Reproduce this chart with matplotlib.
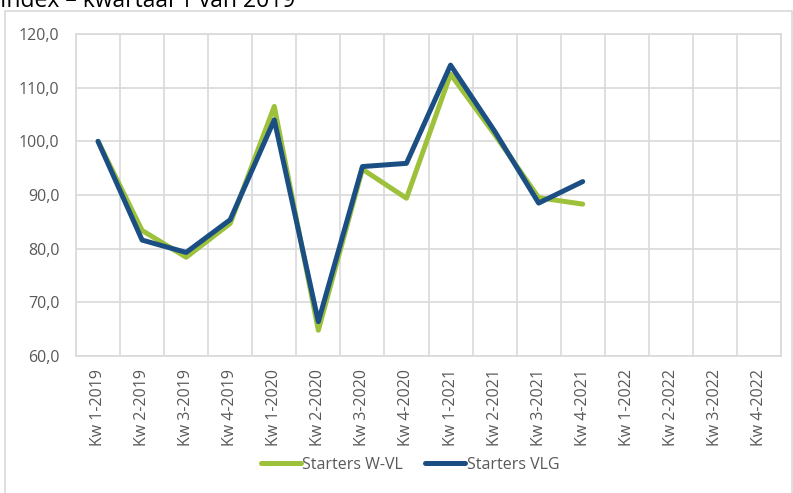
import numpy as np
import matplotlib
matplotlib.use("Agg")
import matplotlib.pyplot as plt
from matplotlib.patches import Rectangle
from matplotlib.ticker import FuncFormatter, MultipleLocator

kwartalen = ["Kw 1-2019", "Kw 2-2019", "Kw 3-2019", "Kw 4-2019",
             "Kw 1-2020", "Kw 2-2020", "Kw 3-2020", "Kw 4-2020",
             "Kw 1-2021", "Kw 2-2021", "Kw 3-2021", "Kw 4-2021",
             "Kw 1-2022", "Kw 2-2022", "Kw 3-2022", "Kw 4-2022"]
starters_wvl = [100.0, 83.4, 78.4, 84.7, 106.5, 64.8, 94.8, 89.4,
                112.5, 101.3, 89.5, 88.3]
starters_vlg = [100.0, 81.6, 79.3, 85.4, 104.0, 66.4, 95.3, 95.9,
                114.2, 101.9, 88.5, 92.5]

grijs = "#D9D9D9"
tekst = "#595959"
plt.rcParams['font.family'] = ['Open Sans', 'DejaVu Sans']

fig = plt.figure(figsize=(7.93, 4.93), dpi=100)
ax = fig.add_axes([76/793, 1-356/493, (781-76)/793, (356-34)/493])

# rand rond de hele grafiek
fig.patches.append(Rectangle((5/793, -0.01), 787/793, 1-11/493+0.01,
                             transform=fig.transFigure, fill=False,
                             edgecolor=grijs, linewidth=1.2))
fig.text(0.0, 1-7/493, "Index – kwartaal 1 van 2019", fontsize=16.5,
         color="black", va="baseline", ha="left")

x = np.arange(len(kwartalen))
ax.plot(x[:len(starters_wvl)], starters_wvl, color="#9DC13A", lw=3.6,
        label="Starters W-VL", solid_capstyle="round", solid_joinstyle="round")
ax.plot(x[:len(starters_vlg)], starters_vlg, color="#1B4F84", lw=3.6,
        label="Starters VLG", solid_capstyle="round", solid_joinstyle="round")

ax.set_xlim(-0.5, len(kwartalen) - 0.5)
ax.set_ylim(60, 120)
ax.yaxis.set_major_locator(MultipleLocator(10))
ax.yaxis.set_major_formatter(FuncFormatter(lambda v, p: f"{v:.1f}".replace(".", ",")))
ax.set_xticks(x)
ax.set_xticklabels(kwartalen, rotation=90)
ax.set_xticks(np.arange(-0.5, len(kwartalen)), minor=True)
ax.grid(axis="y", which="major", color=grijs, lw=1.2)
ax.grid(axis="x", which="minor", color=grijs, lw=1.2)
ax.set_axisbelow(True)
ax.tick_params(axis="both", which="both", length=0, labelsize=11.5, colors=tekst)
ax.tick_params(axis="y", pad=12)
ax.tick_params(axis="x", pad=9)
for s in ax.spines.values():
    s.set_color(grijs)
    s.set_linewidth(1.2)

ax.legend(loc="center", bbox_to_anchor=(0.517, (493-465)/493), bbox_transform=fig.transFigure,
          ncol=2, frameon=False, fontsize=11.5, labelcolor=tekst, handlelength=2.5,
          handletextpad=0.1, columnspacing=1.4)

fig.savefig("out.png", dpi=100)
